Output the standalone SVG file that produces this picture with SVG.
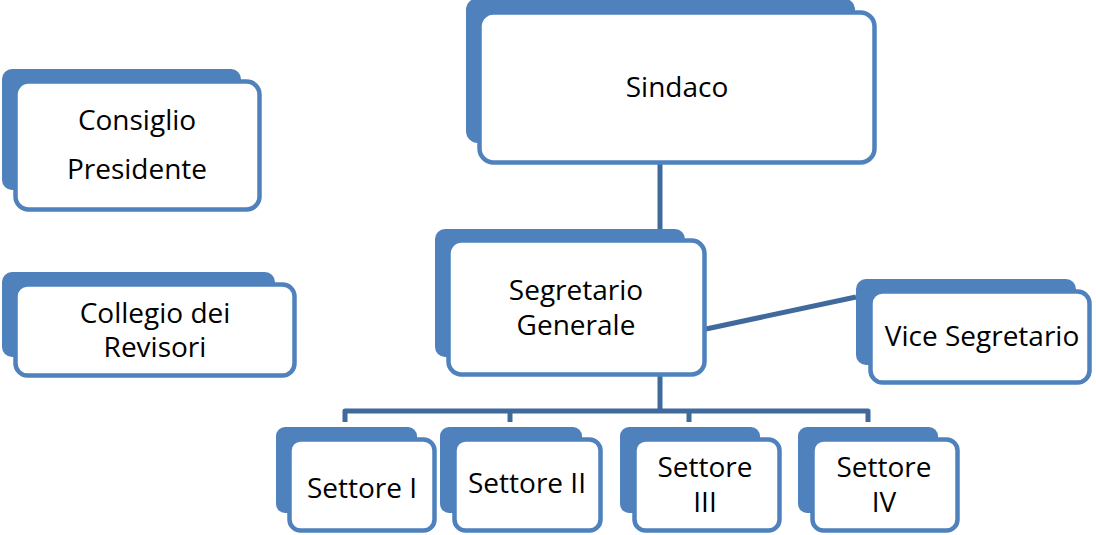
<svg xmlns="http://www.w3.org/2000/svg" width="1096" height="535" viewBox="0 0 1096 535">
<style>
.back{fill:#4F81BD;}
.front{fill:#fff;stroke:#4F81BD;stroke-width:4.5;}
.lbl{font-family:"Open Sans","Noto Sans",sans-serif;font-size:28px;fill:#000;text-anchor:middle;}
.conn{fill:none;stroke:#40699C;stroke-width:5;stroke-linejoin:round;}
</style>
<rect width="1096" height="535" fill="#fff"/>
<g id="connectors">
<line class="conn" x1="660" y1="163" x2="660" y2="231"/>
<line class="conn" x1="660" y1="375" x2="660" y2="411"/>
<path class="conn" d="M345,422 V411 H868 V422"/>
<line class="conn" x1="510" y1="411" x2="510" y2="422"/>
<line class="conn" x1="689" y1="411" x2="689" y2="422"/>
<line class="conn" x1="706" y1="329" x2="856" y2="297"/>
</g>
<g id="sindaco">
<rect class="back" x="466" y="-2" width="389" height="145" rx="12"/>
<rect class="front" x="479.5" y="12.5" width="395" height="150" rx="14"/>
<text class="lbl" x="677" y="97">Sindaco</text>
</g>
<g id="consiglio">
<rect class="back" x="2" y="69" width="239" height="121" rx="10"/>
<rect class="front" x="15.5" y="81.5" width="244" height="128" rx="13"/>
<text class="lbl" x="137" y="130">Consiglio</text>
<text class="lbl" x="137" y="179">Presidente</text>
</g>
<g id="collegio">
<rect class="back" x="2" y="272" width="273" height="85" rx="10"/>
<rect class="front" x="15.5" y="284.5" width="279" height="91" rx="12"/>
<text class="lbl" x="155" y="323">Collegio dei</text>
<text class="lbl" x="155" y="357">Revisori</text>
</g>
<g id="segretario">
<rect class="back" x="435" y="229" width="250" height="128" rx="10"/>
<rect class="front" x="448.5" y="240.5" width="256" height="134" rx="13"/>
<text class="lbl" x="576" y="300">Segretario</text>
<text class="lbl" x="576" y="335">Generale</text>
</g>
<g id="vice">
<rect class="back" x="856" y="279" width="220" height="86" rx="10"/>
<rect class="front" x="870.5" y="291.5" width="219" height="91" rx="12"/>
<text class="lbl" x="982" y="346">Vice Segretario</text>
</g>
<g id="settore1">
<rect class="back" x="276" y="427" width="141" height="86" rx="9"/>
<rect class="front" x="289.5" y="439.5" width="145" height="91" rx="11"/>
<text class="lbl" x="362" y="498">Settore I</text>
</g>
<g id="settore2">
<rect class="back" x="440" y="427" width="142" height="86" rx="9"/>
<rect class="front" x="454.5" y="439.5" width="146" height="91" rx="11"/>
<text class="lbl" x="527" y="493">Settore II</text>
</g>
<g id="settore3">
<rect class="back" x="620" y="427" width="140" height="86" rx="9"/>
<rect class="front" x="634.5" y="439.5" width="145" height="91" rx="11"/>
<text class="lbl" x="705" y="477">Settore</text>
<text class="lbl" x="705" y="512">III</text>
</g>
<g id="settore4">
<rect class="back" x="798" y="427" width="140" height="86" rx="9"/>
<rect class="front" x="812.5" y="439.5" width="145" height="91" rx="11"/>
<text class="lbl" x="884" y="477">Settore</text>
<text class="lbl" x="884" y="512">IV</text>
</g>
</svg>
